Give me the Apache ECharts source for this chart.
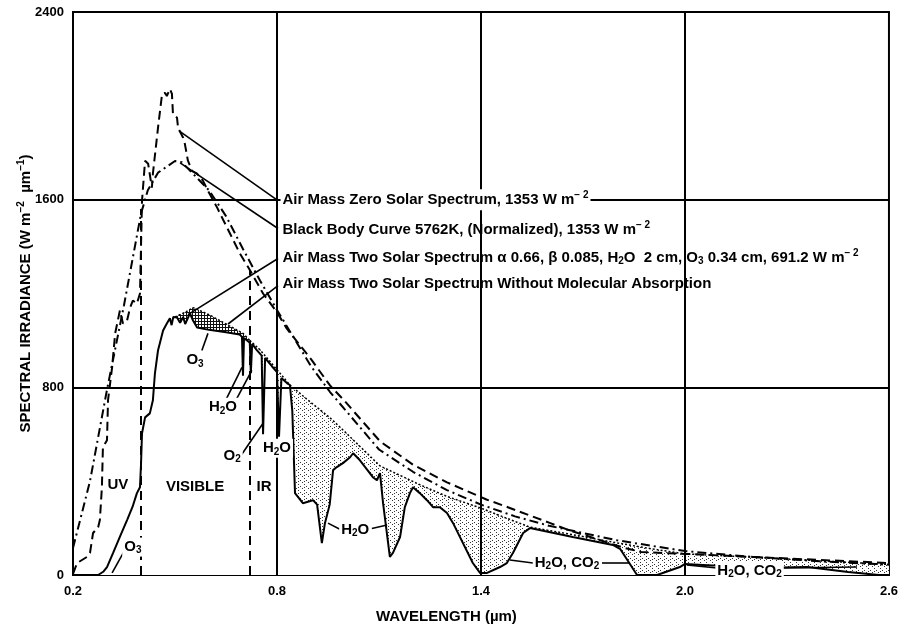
<!DOCTYPE html>
<html><head><meta charset="utf-8">
<script src="https://cdn.jsdelivr.net/npm/echarts@6/dist/echarts.min.js"></script>
<style>html,body{margin:0;padding:0;background:#fff}#c{width:901px;height:634px}</style>
</head><body><div id="c"></div>
<script>
// ---------- DATA ----------
const xTickLabels = ['0.2', '0.8', '1.4', '2.0', '2.6'];
const yTickLabels = ['0', '800', '1600', '2400'];

// Air Mass Zero solar spectrum (dashed)
const am0 = [[0.2,5],[0.212,51],[0.241,77],[0.25,94],[0.259,179],[0.274,204],[0.279,234],[0.285,374],[0.288,545],[0.3,574],[0.303,745],[0.315,885],[0.324,1030],[0.338,1128],[0.347,1072],[0.359,1085],[0.368,1140],[0.376,1170],[0.388,1157],[0.397,1200],[0.403,1596],[0.412,1766],[0.421,1753],[0.432,1651],[0.435,1711],[0.45,1906],[0.462,2051],[0.471,2055],[0.476,2042],[0.485,2072],[0.491,2051],[0.494,1966],[0.506,1949],[0.509,1906],[0.524,1864],[0.529,1838],[0.538,1766],[0.55,1723],[0.565,1711],[0.582,1681],[0.597,1638],[0.624,1566],[0.653,1481],[0.691,1370],[0.721,1298],[0.759,1200],[0.8,1120],[0.829,1050],[0.9,920],[0.956,808],[1.0,740],[1.103,570],[1.2,470],[1.3,395],[1.416,322],[1.479,289],[1.541,255],[1.604,221],[1.659,191],[1.722,162],[1.776,136],[1.824,115],[1.871,98],[2.0,90],[2.2,77],[2.4,64],[2.6,51]];

// Black body curve 5762K normalized (dash-dot)
const blackBody = [[0.2,115],[0.25,400],[0.3,790],[0.35,1150],[0.4,1540],[0.42,1640],[0.45,1715],[0.5,1765],[0.52,1760],[0.55,1715],[0.6,1640],[0.65,1530],[0.7,1390],[0.75,1255],[0.8,1130],[0.9,890],[0.956,780],[1.0,705],[1.1,535],[1.2,440],[1.3,362],[1.4,300],[1.5,250],[1.6,210],[1.8,148],[2.0,102],[2.2,77],[2.4,58],[2.6,44]];

// Air Mass Two without molecular absorption (dotted upper boundary), ozone band part
const am2NoAbsOzone = [[0.5,1100],[0.53,1120],[0.553,1140],[0.6,1110],[0.65,1070],[0.7,1030],[0.72,1000]];
// Air Mass Two without molecular absorption, rest of spectrum
const am2NoAbs = [[0.72,1000],[0.75,960],[0.8,875],[0.838,810],[0.9,735],[0.956,670],[1.0,610],[1.103,465],[1.22,385],[1.3,335],[1.4,285],[1.47,245],[1.544,204],[1.67,172],[1.788,140],[1.9,112],[2.0,90],[2.2,76],[2.4,60],[2.6,45]];

// Air Mass Two solar spectrum (solid)
const am2 = [[0.274,0],[0.29,15],[0.3,34],[0.318,94],[0.34,170],[0.359,234],[0.375,290],[0.388,349],[0.397,374],[0.4,470],[0.403,604],[0.412,672],[0.426,689],[0.435,745],[0.441,860],[0.45,957],[0.465,1042],[0.476,1072],[0.485,1094],[0.49,1065],[0.495,1100],[0.506,1098],[0.515,1075],[0.524,1100],[0.53,1070],[0.544,1115],[0.553,1085],[0.565,1055],[0.6,1045],[0.65,1035],[0.69,1025],[0.697,1015],[0.7,850],[0.703,1010],[0.72,990],[0.723,860],[0.727,985],[0.74,960],[0.755,935],[0.759,600],[0.762,600],[0.765,925],[0.785,890],[0.8,865],[0.806,590],[0.81,590],[0.813,840],[0.83,817],[0.838,810],[0.845,700],[0.853,349],[0.876,306],[0.906,319],[0.918,300],[0.932,136],[0.941,221],[0.955,300],[0.965,447],[0.976,460],[0.994,477],[1.015,502],[1.024,519],[1.044,489],[1.082,417],[1.094,404],[1.103,434],[1.112,306],[1.132,77],[1.141,94],[1.162,162],[1.176,289],[1.191,349],[1.2,374],[1.22,349],[1.241,319],[1.259,289],[1.279,289],[1.3,264],[1.318,221],[1.347,136],[1.376,51],[1.397,9],[1.418,9],[1.456,34],[1.476,51],[1.494,94],[1.524,179],[1.544,200],[1.67,162],[1.788,128],[1.81,110],[1.859,0],[1.918,0],[1.985,34],[2.0,47],[2.08,40],[2.18,43],[2.28,32],[2.36,34],[2.48,13],[2.57,0],[2.6,0]];

// Region boundary lines (UV | VISIBLE | IR): wavelength and top value
const regionBounds = [[0.4, 1560], [0.72, 1300]];
const gridX = [0.8, 1.4, 2.0];
const gridY = [800, 1600];

// Curve labels: anchor [x, y] and text
const curveNotes = [
  { at: [0.806, 1600], text: 'Air Mass Zero Solar Spectrum, 1353 W m{p|− 2}', bg: true },
  { at: [0.806, 1472], text: 'Black Body Curve 5762K, (Normalized), 1353 W m{p|− 2}' },
  { at: [0.806, 1353], text: 'Air Mass Two Solar Spectrum α 0.66, β 0.085, H{s|2}O  2 cm, O{s|3} 0.34 cm, 691.2 W m{p|− 2}' },
  { at: [0.806, 1242], text: 'Air Mass Two Solar Spectrum Without Molecular Absorption' }
];
const curveLeaders = [
  [[0.512, 1893], [0.803, 1596]],
  [[0.515, 1757], [0.803, 1477]],
  [[0.538, 1110], [0.803, 1349]],
  [[0.656, 1070], [0.803, 1234]]
];
// Absorption / region labels (centred)
const bandNotes = [
  { at: [0.559, 915], text: 'O{s|3}' },
  { at: [0.641, 715], text: 'H{s|2}O' },
  { at: [0.668, 510], text: 'O{s|2}' },
  { at: [0.8, 540], text: 'H{s|2}O' },
  { at: [1.03, 191], text: 'H{s|2}O' },
  { at: [1.653, 51], text: 'H{s|2}O, CO{s|2}' },
  { at: [2.19, 17], text: 'H{s|2}O, CO{s|2}' },
  { at: [0.376, 119], text: 'O{s|3}' },
  { at: [0.332, 383], text: 'UV' },
  { at: [0.559, 374], text: 'VISIBLE' },
  { at: [0.762, 374], text: 'IR' }
];
const bandLeaders = [
  [[0.579, 957], [0.597, 1030]],
  [[0.65, 748], [0.697, 885]],
  [[0.68, 748], [0.726, 872]],
  [[0.685, 490], [0.759, 647]],
  [[0.985, 195], [0.95, 221]],
  [[1.079, 198], [1.124, 213]],
  [[1.553, 51], [1.485, 64]],
  [[1.756, 51], [1.838, 51]],
  [[2.094, 30], [2.006, 43]],
  [[2.28, 30], [2.506, 34]],
  [[0.35, 100], [0.315, 9]]
];

// ---------- STYLE / RENDER ----------
const FONT = '"Liberation Sans", Arial, Helvetica, sans-serif';
const rich = {
  p: { fontFamily: FONT, fontWeight: 'bold', fontSize: 10, color: '#000', padding: [0, 0, 9, 0] },
  s: { fontFamily: FONT, fontWeight: 'bold', fontSize: 10, color: '#000', padding: [7, 0, 0, 0] }
};

function dotHatch() {
  const c = document.createElement('canvas'); c.width = 6; c.height = 6;
  const g = c.getContext('2d');
  g.fillStyle = '#fff'; g.fillRect(0, 0, 6, 6);
  g.fillStyle = '#333';
  for (let i = 0; i < 6; i += 2) g.fillRect(i, i, 1, 1);
  g.fillRect(4, 1, 1, 1);
  return c;
}
function crossHatch() {
  const c = document.createElement('canvas'); c.width = 3; c.height = 3;
  const g = c.getContext('2d');
  g.fillStyle = '#fff'; g.fillRect(0, 0, 3, 3);
  g.fillStyle = '#111';
  g.fillRect(0, 0, 3, 1); g.fillRect(0, 0, 1, 3);
  return c;
}

const markData = [];
gridX.forEach(x => markData.push({ xAxis: x, lineStyle: { color: '#000', width: 2, type: 'solid' } }));
gridY.forEach(y => markData.push({ yAxis: y, lineStyle: { color: '#000', width: 2, type: 'solid' } }));
regionBounds.forEach(([x, top]) => markData.push([
  { coord: [x, 0], lineStyle: { color: '#000', width: 2, type: [9, 6] } }, { coord: [x, top] }
]));
curveLeaders.concat(bandLeaders).forEach(([a, b]) => markData.push([
  { coord: a, lineStyle: { color: '#000', width: 1.6, type: 'solid' } }, { coord: b }
]));

const noteData = [];
curveNotes.forEach(n => noteData.push({
  value: n.at,
  label: {
    show: true, position: 'right', distance: 1, formatter: n.text, opacity: 1,
    fontFamily: FONT, fontWeight: 'bold', fontSize: 15, color: '#000',
    backgroundColor: n.bg ? '#fff' : 'transparent', padding: [1, 2, 1, 2], rich
  }
}));
bandNotes.forEach(n => noteData.push({
  value: n.at,
  label: {
    show: true, position: 'inside', formatter: n.text, opacity: 1,
    fontFamily: FONT, fontWeight: 'bold', fontSize: 15, color: '#000',
    backgroundColor: '#fff', padding: [1, 2, 1, 2], rich
  }
}));

const chart = echarts.init(document.getElementById('c'), null, { renderer: 'canvas' });
chart.setOption({
  animation: false,
  backgroundColor: '#fff',
  title: {
    text: 'WAVELENGTH (µm)', left: 371, top: 604,
    textStyle: { fontFamily: FONT, fontWeight: 'bold', fontSize: 15, color: '#000' }
  },
  grid: { left: 73, right: 12, top: 12, bottom: 59, show: true, borderColor: '#000', borderWidth: 2, backgroundColor: '#fff' },
  xAxis: {
    type: 'value', min: 0.2, max: 2.6, interval: 0.2,
    axisLine: { show: true, lineStyle: { color: '#000', width: 2 } },
    axisTick: { show: false }, splitLine: { show: false },
    axisLabel: {
      margin: 10, fontFamily: FONT, fontWeight: 'bold', fontSize: 13, color: '#000',
      formatter: v => xTickLabels.find(t => Math.abs(parseFloat(t) - v) < 1e-6) || ''
    }
  },
  yAxis: {
    type: 'value', min: 0, max: 2400, interval: 800,
    axisLine: { show: true, lineStyle: { color: '#000', width: 2 } },
    axisTick: { show: false }, splitLine: { show: false },
    axisLabel: {
      margin: 9, fontFamily: FONT, fontWeight: 'bold', fontSize: 13, color: '#000',
      formatter: v => yTickLabels.find(t => Math.abs(parseFloat(t) - v) < 1e-6) || ''
    },
    name: 'SPECTRAL IRRADIANCE (W m{p|−2}  µm{p|−1})', nameLocation: 'middle', nameGap: 38, nameRotate: 90,
    nameMoveOverlap: false,
    nameTextStyle: { fontFamily: FONT, fontWeight: 'bold', fontSize: 15, color: '#000', rich }
  },
  series: [
    { type: 'line', name: 'noAbsOzone', data: am2NoAbsOzone, symbol: 'none', z: 1,
      lineStyle: { color: '#000', width: 1.5, type: [2, 2] },
      areaStyle: { color: { image: crossHatch(), repeat: 'repeat' }, opacity: 1 } },
    { type: 'line', name: 'noAbs', data: am2NoAbs, symbol: 'none', z: 1,
      lineStyle: { color: '#000', width: 1.5, type: [2, 2] },
      areaStyle: { color: { image: dotHatch(), repeat: 'repeat' }, opacity: 1 } },
    { type: 'line', name: 'am2', data: am2, symbol: 'none', z: 2,
      lineStyle: { color: '#000', width: 2 },
      areaStyle: { color: '#fff', opacity: 1 },
      markLine: { silent: true, symbol: ['none', 'none'], label: { show: false }, z: 3, data: markData } },
    { type: 'line', name: 'am0', data: am0, symbol: 'none', z: 4,
      lineStyle: { color: '#000', width: 2, type: [9, 5] } },
    { type: 'line', name: 'blackBody', data: blackBody, symbol: 'none', z: 4,
      lineStyle: { color: '#000', width: 2, type: [9, 4, 2, 4] } },
    { type: 'scatter', name: 'notes', data: noteData, symbol: 'circle', symbolSize: 1, z: 10,
      itemStyle: { color: 'rgba(0,0,0,0)', opacity: 1 }, silent: true,
      emphasis: { disabled: true } }
  ]
});
</script>
</body></html>
